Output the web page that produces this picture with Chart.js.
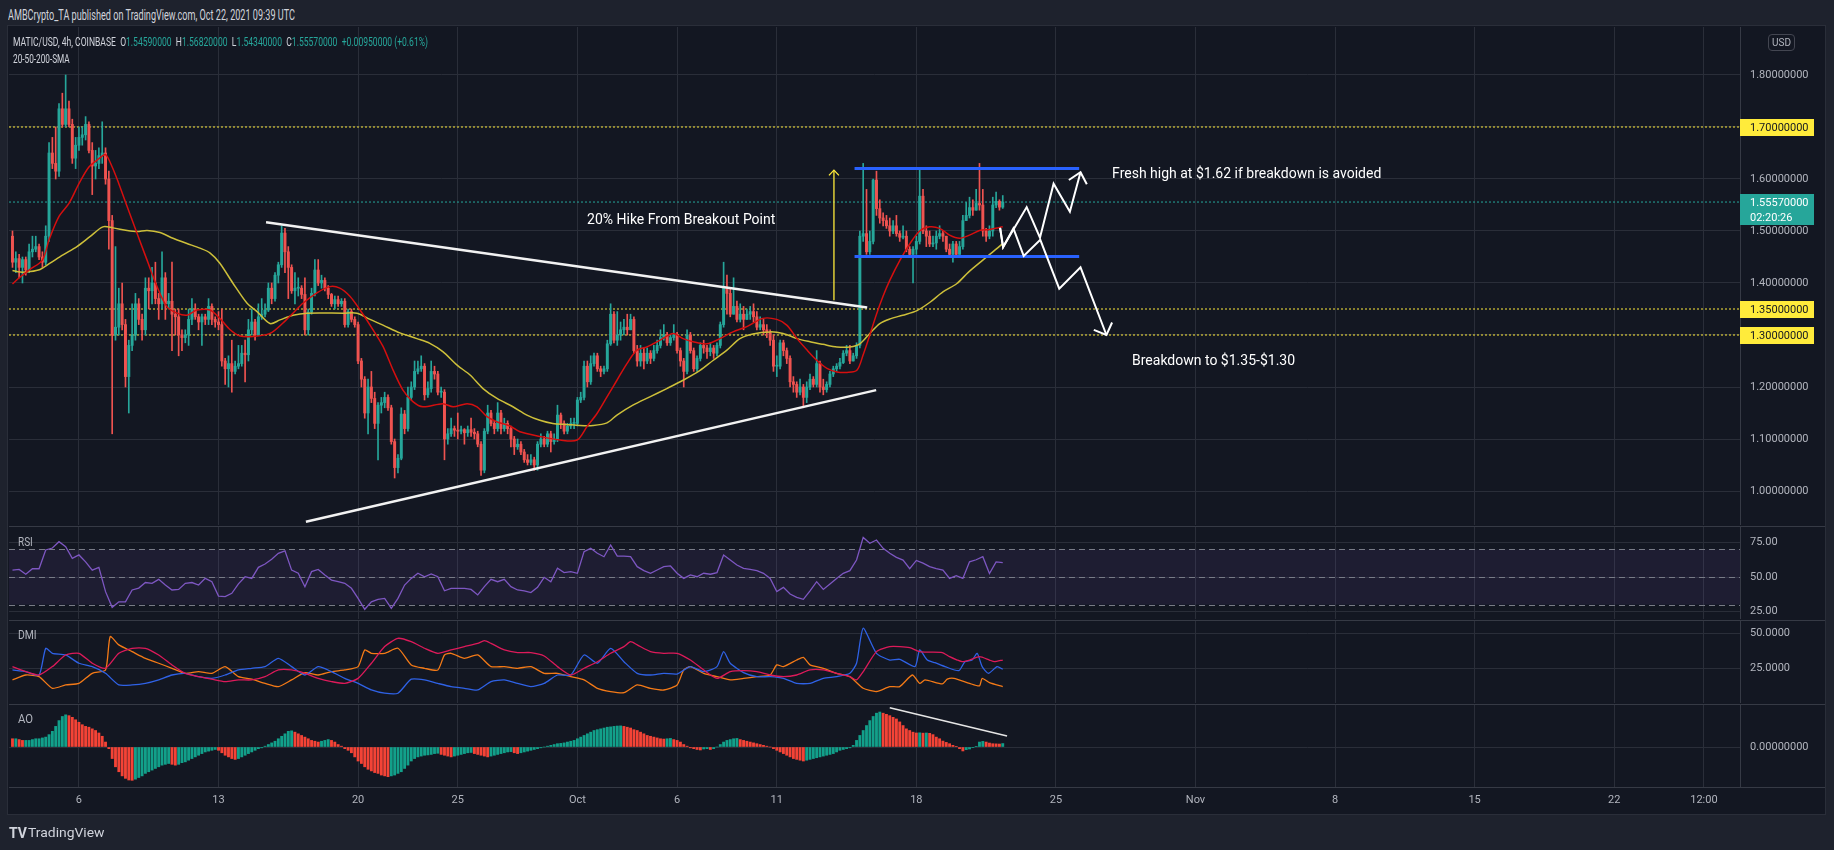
<!DOCTYPE html>
<html>
<head>
<meta charset="utf-8">
<title>MATIC/USD 4h</title>
<script src="https://cdn.jsdelivr.net/npm/chart.js@4.4.1/dist/chart.umd.min.js"></script>
<style>
  html, body { margin: 0; padding: 0; }
  body { width: 1834px; height: 850px; background: #1e222d; position: relative; overflow: hidden;
         font-family: Roboto, "Liberation Sans", sans-serif; }
  #frame { position: absolute; left: 8px; top: 26px; width: 1817px; height: 788px; background: #131722;
           box-shadow: 0 0 0 1px #2a2e39; }
  canvas { position: absolute; left: 9px; }
  .txt { position: absolute; white-space: nowrap; transform-origin: 0 50%; color: #d1d4dc; line-height: 16px; }
  .g { color: #26a69a; }
  #usd { position: absolute; left: 1768px; top: 34px; width: 25px; height: 15px; border: 1px solid #434651;
         border-radius: 4px; color: #b2b5be; font-size: 10px; line-height: 15px; text-align: center; }
</style>
</head>
<body>
<div id="frame"></div>
<canvas id="main" width="1816" height="498" style="top:27px"></canvas>
<canvas id="rsi" width="1816" height="93" style="top:526px"></canvas>
<canvas id="dmi" width="1816" height="83" style="top:620px"></canvas>
<canvas id="ao" width="1816" height="109" style="top:704px"></canvas>

<div class="txt" id="hdr" style="left:8px;top:7px;font-size:14px">AMBCrypto_TA published on TradingView.com, Oct 22, 2021 09:39 UTC</div>
<div class="txt" id="leg1" style="left:13px;top:34px;font-size:13px">MATIC/USD, 4h, COINBASE&nbsp;&nbsp;O<span class="g">1.54590000</span>&nbsp;&nbsp;H<span class="g">1.56820000</span>&nbsp;&nbsp;L<span class="g">1.54340000</span>&nbsp;&nbsp;C<span class="g">1.55570000</span>&nbsp;&nbsp;<span class="g">+0.00950000 (+0.61%)</span></div>
<div class="txt" id="leg2" style="left:13px;top:51px;font-size:13px">20-50-200-SMA</div>
<div class="txt" id="lrsi" style="left:18px;top:534px;font-size:12px;color:#b2b5be">RSI</div>
<div class="txt" id="ldmi" style="left:18px;top:627px;font-size:12px;color:#b2b5be">DMI</div>
<div class="txt" id="lao" style="left:18px;top:711px;font-size:12px;color:#b2b5be">AO</div>
<div class="txt" id="tvlogo" style="left:9px;top:825px;font-size:14px;font-weight:bold;color:#d1d4dc">TV</div>
<div class="txt" id="tvname" style="left:28px;top:825px;font-size:13px;color:#d1d4dc">TradingView</div>
<div id="usd">USD</div>

<script>
// ---- 4h candles, Sep 2 16:00 -> Oct 22 08:00 (bar index 0..298) ----
const firstOpen = 1.49;
const closes = [
  1.44,1.447,1.43,1.445,1.425,1.46,1.465,1.47,1.45,1.44,
  1.49,1.65,1.63,1.615,1.735,1.705,1.735,1.705,1.64,1.665,
  1.68,1.685,1.705,1.655,1.625,1.63,1.645,1.65,1.60,1.52,
  1.30,1.315,1.36,1.32,1.22,1.28,1.30,1.36,1.33,1.31,
  1.39,1.385,1.40,1.37,1.36,1.41,1.36,1.365,1.34,1.335,
  1.30,1.295,1.30,1.33,1.35,1.335,1.325,1.335,1.33,1.355,
  1.33,1.325,1.32,1.25,1.235,1.245,1.23,1.24,1.245,1.265,
  1.262,1.31,1.325,1.30,1.335,1.34,1.348,1.39,1.37,1.415,
  1.435,1.496,1.46,1.43,1.385,1.39,1.39,1.378,1.31,1.344,
  1.38,1.425,1.40,1.405,1.39,1.378,1.36,1.368,1.36,1.365,
  1.32,1.345,1.33,1.32,1.25,1.215,1.15,1.20,1.178,1.13,
  1.165,1.17,1.18,1.16,1.095,1.045,1.063,1.148,1.12,1.18,
  1.20,1.23,1.235,1.24,1.185,1.197,1.23,1.225,1.19,1.19,
  1.10,1.11,1.12,1.117,1.115,1.118,1.112,1.118,1.113,1.11,
  1.09,1.04,1.115,1.15,1.13,1.12,1.15,1.12,1.13,1.12,
  1.10,1.085,1.09,1.075,1.06,1.055,1.06,1.05,1.09,1.10,
  1.09,1.11,1.095,1.10,1.146,1.13,1.115,1.125,1.13,1.13,
  1.175,1.18,1.24,1.21,1.245,1.26,1.235,1.23,1.235,1.283,
  1.34,1.29,1.30,1.31,1.315,1.31,1.33,1.27,1.25,1.265,
  1.25,1.265,1.255,1.27,1.28,1.295,1.30,1.285,1.295,1.30,
  1.27,1.25,1.23,1.30,1.27,1.235,1.255,1.28,1.275,1.268,
  1.275,1.265,1.28,1.32,1.39,1.38,1.34,1.355,1.33,1.34,
  1.33,1.34,1.345,1.335,1.315,1.32,1.31,1.305,1.29,1.24,
  1.24,1.285,1.27,1.255,1.21,1.205,1.19,1.20,1.18,1.20,
  1.215,1.205,1.245,1.20,1.195,1.205,1.225,1.235,1.24,1.247,
  1.265,1.27,1.25,1.26,1.28,1.49,1.495,1.46,1.48,1.598,
  1.543,1.525,1.52,1.51,1.50,1.51,1.495,1.488,1.49,1.465,
  1.455,1.465,1.48,1.567,1.50,1.49,1.475,1.477,1.49,1.495,
  1.49,1.465,1.455,1.475,1.455,1.47,1.52,1.53,1.545,1.54,
  1.553,1.55,1.50,1.49,1.50,1.55,1.557,1.5459,1.5557
];
const highs = [
  1.50,1.46,1.455,1.45,1.45,1.475,1.49,1.49,1.475,1.46,
  1.51,1.67,1.68,1.70,1.745,1.765,1.80,1.75,1.715,1.68,
  1.70,1.70,1.72,1.71,1.67,1.655,1.66,1.71,1.66,1.615,
  1.53,1.47,1.39,1.40,1.33,1.29,1.36,1.38,1.37,1.34,
  1.41,1.41,1.43,1.44,1.38,1.46,1.42,1.38,1.44,1.35,
  1.35,1.31,1.31,1.35,1.37,1.36,1.34,1.34,1.34,1.37,
  1.36,1.335,1.345,1.35,1.255,1.26,1.29,1.25,1.28,1.28,
  1.29,1.33,1.35,1.33,1.36,1.37,1.36,1.40,1.40,1.42,
  1.44,1.51,1.505,1.47,1.435,1.42,1.41,1.395,1.41,1.35,
  1.39,1.445,1.445,1.415,1.41,1.395,1.38,1.375,1.375,1.37,
  1.37,1.35,1.35,1.335,1.325,1.255,1.22,1.215,1.23,1.19,
  1.17,1.18,1.19,1.185,1.165,1.10,1.07,1.16,1.155,1.20,
  1.21,1.25,1.25,1.26,1.245,1.21,1.25,1.24,1.23,1.20,
  1.195,1.12,1.14,1.125,1.15,1.125,1.12,1.125,1.14,1.12,
  1.115,1.095,1.12,1.165,1.155,1.135,1.17,1.155,1.14,1.135,
  1.125,1.105,1.10,1.095,1.08,1.07,1.07,1.065,1.095,1.11,
  1.105,1.115,1.115,1.11,1.165,1.15,1.135,1.13,1.14,1.14,
  1.18,1.19,1.25,1.25,1.26,1.265,1.265,1.24,1.24,1.29,
  1.36,1.345,1.345,1.325,1.33,1.34,1.34,1.335,1.28,1.28,
  1.275,1.275,1.27,1.28,1.29,1.31,1.32,1.305,1.30,1.32,
  1.305,1.275,1.255,1.31,1.305,1.275,1.26,1.285,1.29,1.28,
  1.285,1.28,1.285,1.325,1.44,1.415,1.39,1.41,1.365,1.36,
  1.355,1.35,1.355,1.36,1.345,1.335,1.33,1.32,1.31,1.30,
  1.26,1.29,1.29,1.275,1.26,1.22,1.21,1.215,1.205,1.21,
  1.225,1.22,1.27,1.25,1.215,1.21,1.23,1.24,1.245,1.255,
  1.27,1.28,1.28,1.265,1.285,1.50,1.63,1.58,1.50,1.60,
  1.615,1.56,1.535,1.53,1.525,1.52,1.53,1.50,1.51,1.50,
  1.47,1.47,1.49,1.62,1.58,1.51,1.50,1.49,1.50,1.51,
  1.50,1.49,1.475,1.48,1.48,1.48,1.53,1.555,1.565,1.56,
  1.58,1.63,1.58,1.505,1.51,1.565,1.575,1.56,1.5682
];
const lows = [
  1.43,1.42,1.41,1.40,1.415,1.42,1.45,1.46,1.445,1.43,
  1.435,1.48,1.62,1.60,1.605,1.70,1.70,1.70,1.63,1.62,
  1.655,1.665,1.675,1.65,1.57,1.60,1.62,1.63,1.59,1.465,
  1.11,1.29,1.30,1.31,1.20,1.15,1.27,1.29,1.32,1.29,
  1.30,1.35,1.36,1.36,1.33,1.35,1.33,1.35,1.27,1.30,
  1.26,1.27,1.285,1.28,1.32,1.33,1.31,1.28,1.32,1.32,
  1.32,1.315,1.31,1.24,1.205,1.20,1.19,1.225,1.235,1.24,
  1.21,1.25,1.30,1.29,1.30,1.33,1.335,1.345,1.36,1.365,
  1.40,1.43,1.42,1.37,1.38,1.36,1.375,1.37,1.30,1.30,
  1.34,1.375,1.395,1.39,1.385,1.37,1.355,1.35,1.355,1.355,
  1.315,1.315,1.325,1.315,1.245,1.20,1.14,1.11,1.17,1.12,
  1.06,1.15,1.16,1.155,1.09,1.025,1.035,1.06,1.11,1.115,
  1.175,1.195,1.225,1.23,1.175,1.18,1.19,1.215,1.185,1.18,
  1.06,1.09,1.105,1.105,1.10,1.11,1.09,1.105,1.105,1.10,
  1.085,1.03,1.035,1.11,1.125,1.11,1.115,1.11,1.115,1.11,
  1.085,1.07,1.08,1.07,1.055,1.05,1.05,1.04,1.04,1.085,
  1.085,1.085,1.075,1.09,1.095,1.12,1.11,1.11,1.12,1.12,
  1.125,1.17,1.175,1.20,1.205,1.24,1.23,1.22,1.225,1.23,
  1.28,1.285,1.28,1.29,1.30,1.30,1.31,1.265,1.24,1.24,
  1.235,1.245,1.245,1.25,1.265,1.275,1.29,1.28,1.28,1.29,
  1.265,1.24,1.20,1.225,1.265,1.23,1.23,1.25,1.265,1.255,
  1.26,1.255,1.26,1.275,1.315,1.34,1.335,1.34,1.325,1.325,
  1.31,1.33,1.33,1.325,1.31,1.31,1.30,1.295,1.28,1.23,
  1.22,1.235,1.26,1.245,1.20,1.19,1.18,1.185,1.16,1.17,
  1.195,1.20,1.20,1.19,1.185,1.19,1.20,1.22,1.23,1.235,
  1.245,1.26,1.245,1.25,1.255,1.275,1.48,1.455,1.455,1.475,
  1.53,1.515,1.51,1.505,1.49,1.495,1.49,1.48,1.485,1.46,
  1.45,1.40,1.455,1.475,1.495,1.47,1.47,1.47,1.465,1.485,
  1.48,1.46,1.45,1.44,1.45,1.455,1.465,1.52,1.525,1.53,
  1.54,1.54,1.49,1.48,1.485,1.49,1.545,1.54,1.5434
];

// ---- moving averages: [bar index, price] ----
const sma20 = [[0,1.398],[2,1.41],[5,1.425],[9,1.444],[11,1.483],[14,1.528],[17,1.553],[20,1.591],[23,1.623],[26,1.639],[28,1.647],[30,1.623],[32,1.591],[34.5,1.547],[37.5,1.495],[40.5,1.444],[43.5,1.393],[46.5,1.354],[49.5,1.342],[52.5,1.338],[55.5,1.348],[59.4,1.348],[62.4,1.332],[65.5,1.31],[68.5,1.298],[72.4,1.297],[77.5,1.303],[81.4,1.323],[84.4,1.342],[87.4,1.361],[91.6,1.381],[95.5,1.393],[98.5,1.39],[101.6,1.374],[104.6,1.348],[108.5,1.31],[111.5,1.278],[114.5,1.233],[117.5,1.194],[120.5,1.172],[123.5,1.162],[129.5,1.168],[132.6,1.162],[136.8,1.168],[139.8,1.162],[142.8,1.143],[145.8,1.133],[149.7,1.125],[152.7,1.114],[158.7,1.105],[164.8,1.098],[169.9,1.098],[172.9,1.124],[175.9,1.149],[178.9,1.181],[181.9,1.213],[184.9,1.245],[187.9,1.271],[190.9,1.277],[194.9,1.29],[198.8,1.303],[201.8,1.293],[204.8,1.287],[209,1.283],[212.9,1.293],[216.8,1.306],[221,1.316],[225.8,1.332],[230,1.33],[233,1.319],[236.1,1.293],[239.1,1.271],[242.1,1.251],[245.1,1.236],[248.1,1.229],[251.1,1.228],[254.1,1.232],[256,1.262],[258,1.30],[260,1.34],[262,1.375],[264,1.405],[267,1.443],[270,1.475],[273,1.50],[276,1.508],[279,1.505],[282,1.492],[285,1.486],[288,1.492],[291,1.501],[294,1.503],[298,1.508]];
const sma50 = [[0,1.424],[2.3,1.421],[5.3,1.422],[8.3,1.426],[11.3,1.438],[15.2,1.454],[19.4,1.47],[23.3,1.489],[27.2,1.508],[30.2,1.506],[34.5,1.501],[37.5,1.499],[40.5,1.501],[44.4,1.497],[48.3,1.486],[52.5,1.476],[56.4,1.467],[59.4,1.458],[62.4,1.438],[66.3,1.40],[70.6,1.361],[73.6,1.345],[77.5,1.322],[80.5,1.329],[84.4,1.338],[88.6,1.342],[99.5,1.342],[103.7,1.342],[107.6,1.33],[111.5,1.319],[116.6,1.304],[121.7,1.293],[125.6,1.284],[129.5,1.268],[133.8,1.242],[137.7,1.223],[141.6,1.197],[145.8,1.178],[150.6,1.162],[154.8,1.146],[158.7,1.136],[162.6,1.13],[166.9,1.128],[170.8,1.126],[174.7,1.126],[178.9,1.131],[181.9,1.146],[186.7,1.165],[191.8,1.181],[196.9,1.197],[201.8,1.213],[206.9,1.232],[210.8,1.251],[215,1.271],[218.9,1.293],[222.8,1.302],[227.9,1.306],[231.9,1.303],[236.1,1.293],[240,1.287],[243.9,1.282],[248.1,1.277],[252,1.277],[255,1.283],[258,1.303],[261,1.322],[264.1,1.331],[267.9,1.338],[272.2,1.347],[276.1,1.363],[280,1.383],[284.2,1.399],[287.7,1.421],[292,1.444],[296.2,1.466],[298,1.476]];

// ---- RSI(14), read every second bar ----
const rsiValues = [
  55,55.5,52,56,56,69.6,71,75.6,72,63.5,
  66,61,55,57,39.4,28,32,32,40.6,42,
  46,45.4,48.3,44.2,40.6,41,45.4,46,44.2,49,
  46.6,36.2,35.8,38.2,45,50.2,49,57,59.4,62.8,
  67.2,69,55,52.7,43,53.9,55.5,51.5,47.8,46.6,
  45.4,41.8,34.5,26.6,32,33.8,34.5,27.3,34.5,44.2,
  49,52.7,50.2,52.2,50.2,40,41.8,41.8,41.8,41,
  37,43,48.3,46.6,48.3,43,40.6,40,38.7,42.5,
  49.8,46.6,56.3,53.2,53.9,52.7,68.4,70.8,67.2,64.7,
  73.2,65.2,65.2,64.7,57.5,54.6,52.7,55.1,57.5,58,
  52.7,49,51.5,50.2,52.7,52,53.2,65.9,62.3,58.7,
  56.3,55.5,54.6,52.7,49,39.4,42.5,37.7,35.3,33.8,
  40,46.6,41,45,49,52.7,54.6,62.3,78.7,74.4,
  76.8,70.8,67.2,64.2,62.3,56,62,60,57.5,56,
  55,49,51,49,61,62.5,64.7,52.5,61,60.4
];
const rsiStep = 2;
const rsiLevels = [70, 50, 30];

// ---- DMI(14): [bar index, value] ----
const plusDI = [[0,23.6],[4,22.4],[8,20],[10,39],[12,35.5],[16,34.3],[20,28.4],[24,26],[28,21.2],[32,12.9],[36,12.9],[40,14],[44,16.5],[48,20],[52,21.2],[56,18.8],[60,17.6],[64,20],[68,23.6],[72,24.8],[76,26],[80,31.9],[84,26],[88,20],[92,26],[96,22.4],[100,17.6],[104,14],[108,9.3],[112,7],[116,7],[120,17],[124,16.5],[128,14],[132,11.7],[136,10.5],[140,9.3],[144,15.3],[148,16.5],[152,14],[156,11.7],[160,14],[164,20],[168,20],[172,34.3],[176,28.4],[180,39],[184,29.5],[188,21.2],[192,20],[196,21.2],[200,20.7],[204,26],[208,22.4],[212,26],[214,36.7],[216,28.4],[220,21.7],[224,18.8],[228,18.8],[232,17.6],[236,14],[240,14],[244,17.6],[248,18.8],[252,21.2],[254,28.4],[256,53.4],[260,35.5],[264,30.7],[267,31.2],[271.6,26],[273,37.9],[275.3,30.7],[277.6,28.8],[280.6,26],[284.8,23.1],[286.6,29.5],[288.8,30.7],[290.3,35.5],[291.8,26],[293.7,21.2],[296.3,26],[298,24.1]];
const minusDI = [[0,16.5],[4,20],[8,18.8],[12,10.5],[16,12.9],[20,14],[24,21.2],[28,23.6],[29.4,47.4],[32,41.5],[36,36.7],[40,31.9],[44,28.4],[48,24.8],[52,21.2],[56,22.4],[60,21.2],[64,26],[68,18.8],[72,17],[76,14],[80,11.7],[84,16.5],[88,21.7],[92,20],[96,22.4],[100,23.6],[104,26],[106,37.9],[108,35.5],[112,35.5],[116,39.1],[120,27.2],[124,24.8],[128,23.6],[130,34.3],[132,35.5],[136,31.9],[140,34.3],[144,26],[148,26],[152,24.8],[156,26],[160,21.2],[164,21.2],[168,18.8],[172,16.5],[176,10.5],[180,8.2],[184,7.4],[188,12.9],[192,10.5],[196,9.3],[200,12.9],[202,23.6],[204,26],[208,21.2],[212,18.8],[216,16.5],[220,17.6],[224,18.8],[228,20],[230,27.2],[232,26],[236,30.7],[238,32.6],[240,27.2],[244,24.8],[248,21.2],[252,18.8],[256,10.5],[260,8.2],[264,11.7],[267,11.7],[270.8,20],[273,14],[274.6,16.5],[279.8,13.6],[281.3,17],[283.3,17.6],[288,14],[291,12.2],[291.8,17.6],[294,14.5],[298,11.7]];
const adx = [[0,26],[4,22.4],[8,20],[12,26],[16,34.3],[20,35.5],[24,28.4],[28,24.8],[32,35.5],[36,39.1],[40,39.1],[44,34.3],[48,27.2],[52,21.2],[56,18.8],[60,17],[64,15.3],[68,16.5],[72,16.5],[76,18.8],[80,23.6],[84,23.6],[88,21.2],[92,17.6],[96,15.3],[100,14],[104,17.6],[108,28.4],[112,40.3],[116,46.2],[120,43.8],[124,39.1],[128,35.5],[132,37.9],[136,40.3],[140,42.6],[142,44.5],[144,42.6],[148,37.9],[152,36],[156,36],[160,33.6],[164,26],[168,20],[172,24.8],[176,29.5],[180,35.5],[184,40.3],[186,43.8],[188,41.5],[192,36.7],[196,35.5],[200,35.5],[204,30.7],[208,23.6],[212,17.6],[216,22.4],[220,23.1],[224,22.4],[228,20],[232,18.8],[236,20],[240,23.6],[244,23.6],[248,21.2],[252,18.8],[254,16.5],[256,22.4],[260,36.7],[264,40.3],[267,40.3],[270,39.5],[273,36.7],[276,36.3],[279.8,36],[282,33.1],[284.3,30.7],[285.8,29.5],[288,30.7],[291,33.1],[294,30.7],[295.5,29.5],[298,30.7]];

// ---- Awesome Oscillator, one bar per candle ----
const aoValues = [
  0.05,0.05,0.045,0.04,0.04,0.04,0.045,0.05,0.05,0.055,
  0.06,0.075,0.095,0.125,0.16,0.185,0.195,0.19,0.18,0.165,
  0.15,0.135,0.125,0.12,0.11,0.1,0.085,0.065,0.03,-0.01,
  -0.07,-0.12,-0.15,-0.175,-0.19,-0.2,-0.202,-0.195,-0.185,-0.175,
  -0.16,-0.15,-0.14,-0.13,-0.12,-0.11,-0.105,-0.1,-0.105,-0.11,
  -0.105,-0.095,-0.09,-0.08,-0.07,-0.06,-0.05,-0.04,-0.03,-0.025,
  -0.02,-0.015,-0.02,-0.035,-0.05,-0.06,-0.07,-0.075,-0.07,-0.06,
  -0.05,-0.04,-0.03,-0.02,-0.01,-0.005,0.005,0.015,0.025,0.035,
  0.05,0.065,0.08,0.095,0.098,0.09,0.08,0.07,0.06,0.05,
  0.04,0.035,0.03,0.035,0.04,0.045,0.04,0.03,0.015,0.005,
  -0.01,-0.02,-0.035,-0.06,-0.085,-0.1,-0.12,-0.135,-0.145,-0.155,
  -0.16,-0.17,-0.175,-0.18,-0.175,-0.17,-0.16,-0.15,-0.13,-0.11,
  -0.085,-0.07,-0.06,-0.055,-0.05,-0.048,-0.045,-0.04,-0.038,-0.045,
  -0.05,-0.055,-0.06,-0.055,-0.05,-0.045,-0.04,-0.035,-0.033,-0.04,
  -0.045,-0.05,-0.055,-0.06,-0.055,-0.05,-0.045,-0.04,-0.035,-0.03,
  -0.028,-0.035,-0.04,-0.035,-0.03,-0.025,-0.02,-0.015,-0.01,-0.005,
  0.0,0.005,0.01,0.015,0.02,0.022,0.025,0.03,0.035,0.04,
  0.05,0.06,0.07,0.08,0.09,0.1,0.105,0.11,0.115,0.12,
  0.122,0.125,0.127,0.128,0.125,0.12,0.115,0.105,0.1,0.09,
  0.08,0.07,0.065,0.06,0.055,0.05,0.048,0.05,0.052,0.045,
  0.04,0.03,0.015,0.005,-0.005,-0.01,-0.015,-0.018,-0.012,-0.01,
  -0.015,-0.01,0.0,0.015,0.03,0.04,0.045,0.05,0.052,0.045,
  0.04,0.035,0.03,0.025,0.02,0.015,0.01,0.005,0.0,-0.01,
  -0.02,-0.03,-0.04,-0.05,-0.06,-0.07,-0.075,-0.08,-0.085,-0.08,
  -0.075,-0.07,-0.065,-0.06,-0.055,-0.05,-0.045,-0.04,-0.03,-0.02,
  -0.015,-0.01,-0.005,0.01,0.04,0.07,0.1,0.13,0.16,0.185,
  0.205,0.212,0.205,0.198,0.19,0.18,0.17,0.152,0.13,0.11,
  0.1,0.09,0.085,0.086,0.084,0.085,0.083,0.075,0.06,0.05,
  0.036,0.028,0.02,0.01,0.002,-0.01,-0.024,-0.016,-0.012,-0.004,
  0.004,0.03,0.034,0.03,0.024,0.02,0.019,0.018,0.021
];
const aoTrend = [[264,0.238],[299.3,0.067]];

// ---- time axis ----
const timeIdx  = [20, 62, 104, 134, 170, 200, 230, 272, 314, 356, 398, 440, 482, 509];
const timeText = ['6','13','20','25','Oct','6','11','18','25','Nov','8','15','22','12:00'];

// ---- price axis, levels ----
const priceTicks = [1.0, 1.1, 1.2, 1.3, 1.4, 1.5, 1.6, 1.7, 1.8];
const levels = [1.70, 1.35, 1.30];
const lastPrice = 1.5557;
const countdown = '02:20:26';

// ---- drawings on the price pane: [bar index, price] ----
const upperTrend = [[76.3,1.517],[257.2,1.353]];
const lowerTrend = [[88.3,0.941],[259.9,1.194]];
const rangeTop = [[253.4,1.62],[321,1.62]];
const rangeBottom = [[253.4,1.451],[321,1.451]];
const hikeArrow = [[247.2,1.367],[247.2,1.617]];
const hikeHead = [[245.7,1.607],[247.2,1.617],[248.7,1.607]];
const upPath = [[297.2,1.506],[298.1,1.469],[305.2,1.546],[309.2,1.487],[313.3,1.591],[318.2,1.537],[321.4,1.613]];
const upHead = [[317.9,1.598],[321.4,1.613],[323.3,1.590]];
const downPath = [[297.2,1.506],[298.1,1.469],[301.2,1.505],[304.3,1.452],[309.3,1.483],[315,1.389],[321.4,1.430],[329.2,1.30]];
const downHead = [[325.4,1.31],[329.2,1.30],[330.9,1.324]];
const noteText = ['20% Hike From Breakout Point', 'Fresh high at $1.62 if breakdown is avoided', 'Breakdown to $1.35-$1.30'];
const noteAt = [[172.9,1.521],[330.9,1.6096],[336.9,1.25]];

// ---- view ----
const xMin = -1.05, xMax = 519.86;
const up = '#26a69a', down = '#ef5350';
const gridColor = '#2a2e39';
const lineColor = '#363a45';
const axisText = '#b2b5be';
const axisFont = { family: 'Roboto', size: 11 };

const opens = closes.map((c, i) => i === 0 ? firstOpen : closes[i - 1]);
const pts = arr => arr.map(p => ({ x: p[0], y: p[1] }));
const hLine = v => [{ x: xMin, y: v }, { x: xMax, y: v }];

function xScale(labels) {
  return {
    type: 'linear', min: xMin, max: xMax, offset: false,
    afterBuildTicks: s => { s.ticks = timeIdx.map(v => ({ value: v })); },
    afterFit: s => { s.height = labels ? 26 : 0; s.paddingLeft = 0; s.paddingRight = 0; },
    grid: { color: gridColor, drawTicks: false, offset: false },
    border: { display: false },
    ticks: { display: labels, color: axisText, font: axisFont, padding: 7, maxRotation: 0, autoSkip: false,
             callback: (v, k) => timeText[k] }
  };
}
function yScale(min, max, ticks, digits) {
  return {
    type: 'linear', position: 'right', min: min, max: max,
    afterBuildTicks: s => { s.ticks = ticks.map(v => ({ value: v })); },
    afterFit: s => { s.width = 85; s.paddingTop = 0; s.paddingBottom = 0; },
    grid: { color: gridColor, drawTicks: false },
    border: { display: true, color: lineColor },
    ticks: { color: axisText, font: axisFont, padding: 10, callback: v => v.toFixed(digits) }
  };
}
function path(arr, color, width, order, dash) {
  return { type: 'line', data: pts(arr), borderColor: color, borderWidth: width, pointRadius: 0,
           borderDash: dash || [], tension: 0, order: order, clip: false };
}
function baseOptions(scales) {
  return {
    responsive: false, animation: false, devicePixelRatio: 1, events: [],
    layout: { padding: 0, autoPadding: false },
    plugins: { legend: { display: false }, tooltip: { enabled: false } },
    scales: scales
  };
}

// thin separator at the top of a lower pane
const paneTop = {
  id: 'paneTop',
  afterDraw(chart) {
    const ctx = chart.ctx;
    ctx.save();
    ctx.fillStyle = lineColor;
    ctx.fillRect(0, 0, chart.width, 1);
    ctx.restore();
  }
};

// notes and price-axis labels on the main pane
const mainOverlay = {
  id: 'mainOverlay',
  afterDraw(chart) {
    const { ctx, chartArea: a, scales: { x, y } } = chart;
    ctx.save();
    ctx.font = '14px Roboto';
    ctx.fillStyle = '#ffffff';
    ctx.textBaseline = 'middle';
    ctx.textAlign = 'left';
    noteText.forEach((t, k) => ctx.fillText(t, x.getPixelForValue(noteAt[k][0]), y.getPixelForValue(noteAt[k][1])));

    ctx.font = '11px Roboto';
    levels.forEach(v => {
      const py = Math.round(y.getPixelForValue(v));
      ctx.fillStyle = '#ffeb3b';
      ctx.fillRect(a.right, py - 8, 74, 17);
      ctx.fillStyle = '#131722';
      ctx.fillText(v.toFixed(8), a.right + 10, py + 1);
    });
    const py = Math.round(y.getPixelForValue(lastPrice));
    ctx.fillStyle = '#26a69a';
    ctx.fillRect(a.right, py - 8, 74, 31);
    ctx.fillStyle = '#ffffff';
    ctx.fillText(lastPrice.toFixed(8), a.right + 10, py + 1);
    ctx.fillText(countdown, a.right + 10, py + 16);
    ctx.restore();
  }
};

const rsiOverlay = {
  id: 'rsiOverlay',
  beforeDatasetsDraw(chart) {
    const { ctx, chartArea: a, scales: { y } } = chart;
    const top = y.getPixelForValue(rsiLevels[0]);
    const bot = y.getPixelForValue(rsiLevels[2]);
    ctx.save();
    ctx.fillStyle = 'rgba(126, 87, 194, 0.1)';
    ctx.fillRect(a.left, top, a.width, bot - top);
    ctx.strokeStyle = '#787b86';
    ctx.lineWidth = 1;
    ctx.setLineDash([6, 4]);
    rsiLevels.forEach(v => {
      const py = Math.round(y.getPixelForValue(v)) + 0.5;
      ctx.beginPath(); ctx.moveTo(a.left, py); ctx.lineTo(a.right, py); ctx.stroke();
    });
    ctx.restore();
  }
};

const aoBottom = {
  id: 'aoBottom',
  afterDraw(chart) {
    const ctx = chart.ctx;
    ctx.save();
    ctx.fillStyle = lineColor;
    ctx.fillRect(0, Math.round(chart.chartArea.bottom), chart.width, 1);
    ctx.restore();
  }
};

// ---- main price pane ----
new Chart(document.getElementById('main'), {
  type: 'bar',
  data: {
    datasets: [
      ...levels.map(v => ({ type: 'line', data: hLine(v), borderColor: '#ffeb3b', borderWidth: 1,
                            borderDash: [2, 2], pointRadius: 0, order: 30 })),
      { type: 'line', data: hLine(lastPrice), borderColor: '#26a69a', borderWidth: 1,
        borderDash: [2, 2], pointRadius: 0, order: 30 },
      { type: 'bar', data: closes.map((c, i) => ({ x: i, y: [lows[i], highs[i]] })),
        backgroundColor: closes.map((c, i) => c >= opens[i] ? up : down),
        barThickness: 1, grouped: false, order: 20 },
      { type: 'bar', data: closes.map((c, i) => ({ x: i, y: [opens[i], c] })),
        backgroundColor: closes.map((c, i) => c >= opens[i] ? up : down),
        barThickness: 2.3, minBarLength: 1, grouped: false, order: 19 },
      { type: 'line', data: pts(sma50), borderColor: '#cdbf3a', borderWidth: 1.5, pointRadius: 0, tension: 0.3, order: 10 },
      { type: 'line', data: pts(sma20), borderColor: '#d50f0f', borderWidth: 1.5, pointRadius: 0, tension: 0.3, order: 9 },
      path(upperTrend, '#f2f2f2', 2.5, 5),
      path(lowerTrend, '#f2f2f2', 2.5, 5),
      path(rangeTop, '#2962ff', 3, 4),
      path(rangeBottom, '#2962ff', 3, 4),
      path(hikeArrow, '#ffeb3b', 1.3, 4),
      path(hikeHead, '#ffeb3b', 1.3, 4),
      path(upPath, '#ffffff', 2, 3),
      path(upHead, '#ffffff', 2, 3),
      path(downPath, '#ffffff', 2, 3),
      path(downHead, '#ffffff', 2, 3)
    ]
  },
  options: baseOptions({ x: xScale(false), y: yScale(0.93462, 1.8923, priceTicks, 8) }),
  plugins: [mainOverlay]
});

// ---- RSI pane ----
new Chart(document.getElementById('rsi'), {
  type: 'line',
  data: {
    datasets: [{ data: rsiValues.map((v, k) => ({ x: k * rsiStep, y: v })), borderColor: '#7e57c2',
                 borderWidth: 1.3, pointRadius: 0, tension: 0 }]
  },
  options: baseOptions({ x: xScale(false), y: yScale(19.57, 86.96, [75, 50, 25], 2) }),
  plugins: [rsiOverlay, paneTop]
});

// ---- DMI pane ----
new Chart(document.getElementById('dmi'), {
  type: 'line',
  data: {
    datasets: [
      { data: pts(adx), borderColor: '#dd1a5a', borderWidth: 1.3, pointRadius: 0, tension: 0.2 },
      { data: pts(plusDI), borderColor: '#2f62e6', borderWidth: 1.3, pointRadius: 0, tension: 0.2 },
      { data: pts(minusDI), borderColor: '#f47a17', borderWidth: 1.3, pointRadius: 0, tension: 0.2 }
    ]
  },
  options: baseOptions({ x: xScale(false), y: yScale(0, 59.29, [50, 25], 4) }),
  plugins: [paneTop]
});

// ---- AO pane with time axis ----
new Chart(document.getElementById('ao'), {
  type: 'bar',
  data: {
    datasets: [
      path(aoTrend, '#e6e6e6', 1.5, 1),
      { type: 'bar', data: aoValues.map((v, i) => ({ x: i, y: v })),
        backgroundColor: aoValues.map((v, i) => (i > 0 && v >= aoValues[i - 1]) ? '#12a08a' : '#f44336'),
        barThickness: 2.2, grouped: false, order: 5 }
    ]
  },
  options: baseOptions({ x: xScale(true), y: yScale(-0.2424, 0.2606, [0], 8) }),
  plugins: [paneTop, aoBottom]
});

// squeeze header texts to the widths they take in the picture
function fitText(id, width) {
  const el = document.getElementById(id);
  el.style.transform = 'scaleX(' + (width / el.scrollWidth) + ')';
}
fitText('hdr', 287);
fitText('leg1', 415);
fitText('leg2', 57);
fitText('lrsi', 15);
fitText('ldmi', 19);
fitText('lao', 15);
fitText('tvname', 77);
</script>
</body>
</html>
